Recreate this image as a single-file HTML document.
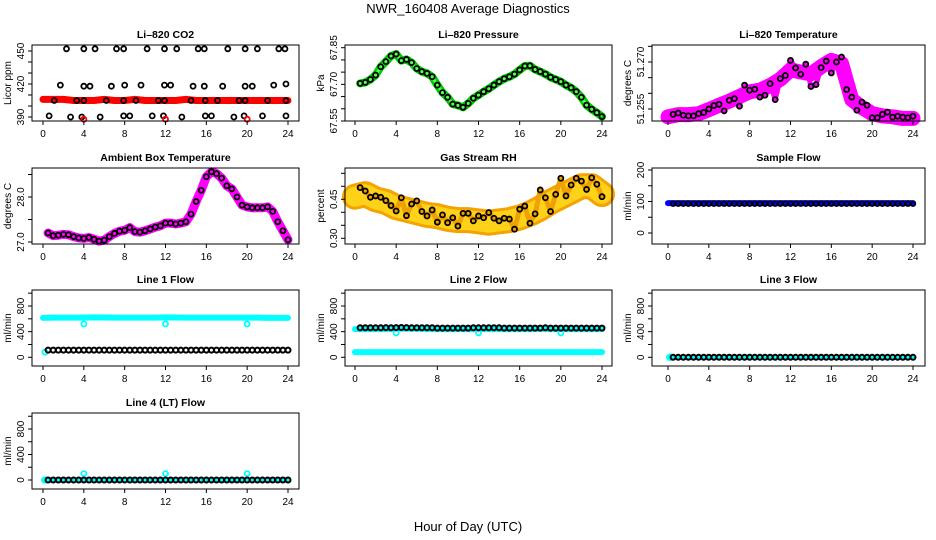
<!DOCTYPE html>
<html><head><meta charset="utf-8"><style>
html,body{margin:0;padding:0;background:#fff;}
svg{display:block;font-family:"Liberation Sans",sans-serif;}
</style></head><body>
<svg id="chart" width="936" height="540" viewBox="0 0 936 540" xmlns="http://www.w3.org/2000/svg">
<rect x="0" y="0" width="936" height="540" fill="#fff"/>
<text x="468" y="13" font-size="13" text-anchor="middle">NWR_160408  Average Diagnostics</text>
<text x="468" y="531" font-size="13" text-anchor="middle">Hour of Day (UTC)</text>
</svg>
<script>
const xTicks=[0,4,8,12,16,20,24];
// CO2
const co2Hr=[2.3,4,5.1,7.2,7.9,10.2,11.9,13.1,15.2,15.8,18.1,19.8,21,23.1,23.7, 1.7,4,4.6,6.7,8,9.6,11.9,12.5,14.7,15.8,17.6,19.8,20.5,22.6,23.8, 1.1,3.3,4,6.2,7.9,9.1,11.3,11.9,14.5,15.9,17.1,19.2,19.8,22,23.8, 0.6,2.7,3.8,5.6,7.9,8.5,10.7,11.8,13.6,15.9,16.5,18.7,19.7,21.5,23.8];
const co2Val=[452,452,452,452,452,452,452,452,452,452,452,452,452,452,452, 419,418,418,418,419,419,419,419,418,418,418,418,418,419,420, 405,405,405,405,405,405,405,405,405,405,405,405,405,405,405, 391,390,390,390,391,391,391,391,390,391,391,390,391,391,391];
const co2Band=[406,406,406,405,405,405,406,405,405,406,405,405,405,405,406,405,405,405,405,405,405,405,405,405,405];
const co2OutHr=[4,12,20];
const co2OutVal=[388,388,388];
// Pressure
const pres=[67.704,67.708,67.72,67.738,67.772,67.793,67.816,67.824,67.797,67.802,67.789,67.765,67.752,67.745,67.731,67.697,67.666,67.647,67.619,67.614,67.606,67.622,67.643,67.656,67.67,67.682,67.697,67.711,67.723,67.731,67.742,67.759,67.775,67.776,67.761,67.752,67.742,67.729,67.72,67.711,67.697,67.686,67.67,67.647,67.615,67.598,67.584,67.568];
// Li-820 temperature
const ltemp=[51.2533,51.2537,51.253,51.2528,51.2528,51.2535,51.2539,51.255,51.2561,51.2565,51.2544,51.2578,51.2583,51.2559,51.2626,51.261,51.2613,51.2588,51.2594,51.2631,51.258,51.2647,51.2657,51.2705,51.2681,51.2661,51.2693,51.2622,51.2628,51.2682,51.2703,51.2665,51.27,51.2716,51.2612,51.2588,51.2546,51.2572,51.2562,51.2522,51.2522,51.2533,51.254,51.2524,51.2527,51.2524,51.2522,51.2527];
const ltempBand=[51.2525,51.2532,51.2532,51.2535,51.2548,51.2562,51.2575,51.259,51.2605,51.261,51.2625,51.2645,51.2675,51.2668,51.2662,51.2685,51.2705,51.2695,51.258,51.2555,51.2535,51.2528,51.2525,51.252,51.252];
// Ambient box temperature
const amb=[27.2,27.14,27.15,27.17,27.16,27.12,27.09,27.08,27.1,27.06,27.02,27.04,27.12,27.19,27.24,27.26,27.32,27.23,27.22,27.25,27.29,27.33,27.36,27.42,27.42,27.4,27.42,27.45,27.62,27.9,28.15,28.45,28.56,28.52,28.42,28.25,28.18,28.0,27.82,27.78,27.76,27.76,27.76,27.78,27.68,27.45,27.25,27.05];
// Gas stream RH
const rh=[0.495,0.482,0.458,0.463,0.458,0.445,0.426,0.405,0.456,0.387,0.432,0.444,0.403,0.386,0.409,0.362,0.39,0.36,0.379,0.347,0.396,0.396,0.367,0.386,0.379,0.399,0.377,0.367,0.377,0.374,0.335,0.412,0.424,0.358,0.394,0.486,0.456,0.403,0.469,0.531,0.463,0.505,0.531,0.52,0.488,0.533,0.508,0.46];
const rhBand=[0.46,0.47,0.45,0.44,0.42,0.41,0.4,0.39,0.385,0.375,0.37,0.37,0.365,0.36,0.365,0.37,0.38,0.395,0.415,0.44,0.46,0.48,0.5,0.5,0.47];
// Flows
const sampleFlow=[93,93,93,93,93,93,93,93,93,93,93,93,93,93,93,93,93,93,93,93,93,93,93,93,93,93,93,93,93,93,93,93,93,93,93,93,93,93,93,93,93,93,93,93,93,93,93,93];
const sampleBand=[95,95,95,95,95,95,95,95,95,95,95,95,95,95,95,95,95,95,95,95,95,95,95,95,95];
const l1Black=[112,112,112,112,112,112,112,112,112,112,112,112,112,112,112,112,112,112,112,112,112,112,112,112,112,112,112,112,112,112,112,112,112,112,112,112,112,112,112,112,112,112,112,112,112,112,112,112];
const l1Band=[615,618,618,618,618,622,620,618,618,618,618,618,622,620,618,618,618,618,618,618,618,618,615,615,615];
const l2Black=[460,460,460,460,460,462,460,462,465,462,460,460,460,460,460,455,455,455,455,455,455,455,460,460,460,460,460,460,455,455,455,455,455,455,455,455,460,455,455,455,455,455,455,455,455,455,455,455];
const l2Band=[440,440,440,440,445,445,445,440,440,440,440,440,440,440,440,440,440,440,445,440,440,440,440,440,440];
const l2Low=[80,80,80,80,80,80,80,80,80,80,80,80,80,80,80,80,80,80,80,80,80,80,80,80,80];
const l3Black=[0,0,0,0,0,0,0,0,0,0,0,0,0,0,0,0,0,0,0,0,0,0,0,0,0,0,0,0,0,0,0,0,0,0,0,0,0,0,0,0,0,0,0,0,0,0,0,0];
const l4Black=[0,0,0,0,0,0,0,0,0,0,0,0,0,0,0,0,0,0,0,0,0,0,0,0,0,0,0,0,0,0,0,0,0,0,0,0,0,0,0,0,0,0,0,0,0,0,0,0];
const outHr=[4,12,20];
const l1Out=[520,520,520];
const l2Out=[380,380,380];
const l4Out=[100,100,100];
const startHr=[0.2];
const l1Start=[80];
const zeroStart=[0];

const svg=document.getElementById('chart');
const NS='http://www.w3.org/2000/svg';
function mk(tag,attrs,parent){const e=document.createElementNS(NS,tag);for(const k in attrs)e.setAttribute(k,attrs[k]);(parent||svg).appendChild(e);return e;}
const cols=[{L:32,R:299,x0:43,x24:288},{L:345,R:612,x0:355,x24:602},{L:652,R:925,x0:668,x24:913}];
const rows=[{T:45,B:121},{T:168,B:244},{T:290,B:366},{T:413,B:489}];
const halfHr=i=>0.5*(i+1);
const hourly=i=>i;

function panel(name,title,ylab,c,r,yv1,yp1,yv2,yp2,ticks,labels){
  const g=mk('g',{});
  
  
  const C=cols[c],R=rows[r];
  const sx=h=>C.x0+(C.x24-C.x0)*h/24;
  const sy=v=>yp1+(v-yv1)*(yp2-yp1)/(yv2-yv1);
  const t=mk('text',{x:(C.L+C.R)/2,y:R.T-7,'font-size':10.5,'font-weight':'bold','text-anchor':'middle'},g);
  t.textContent=title;
  
  
  const yl=mk('text',{x:0,y:0,'font-size':10,'text-anchor':'middle',transform:`translate(${C.L-21},${(R.T+R.B)/2}) rotate(-90)`},g);
  yl.textContent=ylab;
  
  
  const plot=mk('g',{},g);
  
  
  const frame=mk('rect',{x:C.L,y:R.T,width:C.R-C.L,height:R.B-R.T,fill:'none',stroke:'#000','stroke-width':1},g);
  
  
  xTicks.forEach(h=>{
    mk('line',{x1:sx(h),x2:sx(h),y1:R.B,y2:R.B+4,stroke:'#000'},g);
    const tx=mk('text',{x:sx(h),y:R.B+16,'font-size':10,'text-anchor':'middle'},g);
    tx.textContent=h;
    
    
  });
  ticks.forEach((v,i)=>{
    mk('line',{x1:C.L-4,x2:C.L,y1:sy(v),y2:sy(v),stroke:'#000'},g);
    if(labels[i]){
      const ty=mk('text',{x:0,y:0,'font-size':10,'text-anchor':'middle',transform:`translate(${C.L-8},${sy(v)}) rotate(-90)`},g);
      ty.textContent=labels[i];
      
      
    }
  });
  return {plot,sx,sy,C,R};
}
function band(p,vals,hf,color,w,name,dash){
  const pts=vals.map((v,i)=>p.sx(hf(i))+','+p.sy(v)).join(' ');
  const l=mk('polyline',{points:pts,fill:'none',stroke:color,'stroke-width':w,'stroke-linejoin':'round','stroke-linecap':'round'},p.plot);
  if(dash)l.setAttribute('stroke-dasharray',dash);
  
  
}
function pts(p,hrs,vals,color,r,sw,name){
  vals.forEach((v,i)=>{
    const h=typeof hrs==='function'?hrs(i):hrs[i];
    const c=mk('circle',{cx:p.sx(h),cy:p.sy(v),r:r,fill:'none',stroke:color,'stroke-width':sw},p.plot);
    
    
  });
}
const flowT=[0,200,400,600,800,1000],flowL=['0','','400','','800',''];

let p=panel('panel-co2','Li–820 CO2','Licor ppm',0,0,390,117,450,51,[390,400,410,420,430,440,450],['390','','','420','','','450']);
band(p,co2Band,hourly,'#f00',7,'co2-red-band');
pts(p,co2Hr,co2Val,'#000',2.5,1.8,'co2-point');
pts(p,co2OutHr,co2OutVal,'#f00',2.5,1.8,'co2-red-outlier');

p=panel('panel-pressure','Li–820 Pressure','kPa',1,0,67.85,47.7,67.55,121,[67.55,67.6,67.65,67.7,67.75,67.8,67.85],['67.55','','','67.70','','','67.85']);
band(p,pres,halfHr,'#0c0',8,'pressure-green-band');
band(p,pres,halfHr,'#5f5',3,'pressure-green-band-inner','2 2');
pts(p,halfHr,pres,'#000',2.5,1.8,'pressure-point');

p=panel('panel-li820-temp','Li–820 Temperature','degrees C',2,0,51.27,62,51.255,109,[51.255,51.26,51.265,51.27,51.275],['51.255','','','51.270','']);
band(p,ltempBand,hourly,'#f0f',15,'temp-magenta-band');
band(p,ltemp,halfHr,'#f0f',5,'temp-magenta-scatter');
pts(p,halfHr,ltemp,'#000',2.5,1.8,'temp-point');

p=panel('panel-ambient','Ambient Box Temperature','degrees C',0,1,27.0,242,28.0,197,[27.0,27.5,28.0,28.5],['27.0','','28.0','']);
band(p,amb,halfHr,'#f0f',9,'ambient-magenta-band');
pts(p,halfHr,amb,'#000',2.5,1.8,'ambient-point');

p=panel('panel-rh','Gas Stream RH','percent',1,1,0.30,238.3,0.45,199.3,[0.30,0.35,0.40,0.45,0.50,0.55],['0.30','','','0.45','','']);
band(p,rhBand,hourly,'#f5a300',26,'rh-orange-band');
band(p,rhBand,hourly,'#ffd21a',20,'rh-yellow-texture','2 2');
band(p,rh,halfHr,'#f0a000',5,'rh-orange-scatter','3 2');
pts(p,halfHr,rh,'#000',2.5,1.8,'rh-point');

p=panel('panel-sample-flow','Sample Flow','ml/min',2,1,0,233,200,170,[0,50,100,150,200],['0','','100','','200']);
band(p,sampleBand,hourly,'#00f',6,'sample-blue-band');
pts(p,halfHr,sampleFlow,'#000',2.3,1.8,'sample-point');

p=panel('panel-line1','Line 1 Flow','ml/min',0,2,0,357.3,800,306,flowT,flowL);
band(p,l1Band,hourly,'#0ff',6,'line1-cyan-band');
pts(p,startHr,l1Start,'#0ff',2.5,1.8,'line1-cyan-start');
pts(p,outHr,l1Out,'#0ff',2.5,1.8,'line1-cyan-outlier');
pts(p,halfHr,l1Black,'#000',2.5,2,'line1-point');

p=panel('panel-line2','Line 2 Flow','ml/min',1,2,0,357.3,800,306,flowT,flowL);
band(p,l2Band,hourly,'#0ff',6,'line2-cyan-band');
band(p,l2Low,hourly,'#0ff',6,'line2-cyan-low-band');
pts(p,outHr,l2Out,'#0ff',2.5,1.8,'line2-cyan-outlier');
pts(p,halfHr,l2Black,'#000',2.5,2,'line2-point');

p=panel('panel-line3','Line 3 Flow','ml/min',2,2,0,357.3,800,306,flowT,flowL);
pts(p,startHr,zeroStart,'#0ff',2.5,2.5,'line3-cyan-start');
band(p,l3Black.slice(0,25),hourly,'#0ff',4,'line3-cyan-band');
pts(p,halfHr,l3Black,'#000',2.5,2,'line3-point');

p=panel('panel-line4','Line 4 (LT) Flow','ml/min',0,3,0,480,800,429,flowT,flowL);
pts(p,startHr,zeroStart,'#0ff',2.5,2.5,'line4-cyan-start');
band(p,l4Black.slice(0,25),hourly,'#0ff',4,'line4-cyan-band');
pts(p,outHr,l4Out,'#0ff',2.5,1.8,'line4-cyan-outlier');
pts(p,halfHr,l4Black,'#000',2.5,2,'line4-point');
</script>
</body></html>
